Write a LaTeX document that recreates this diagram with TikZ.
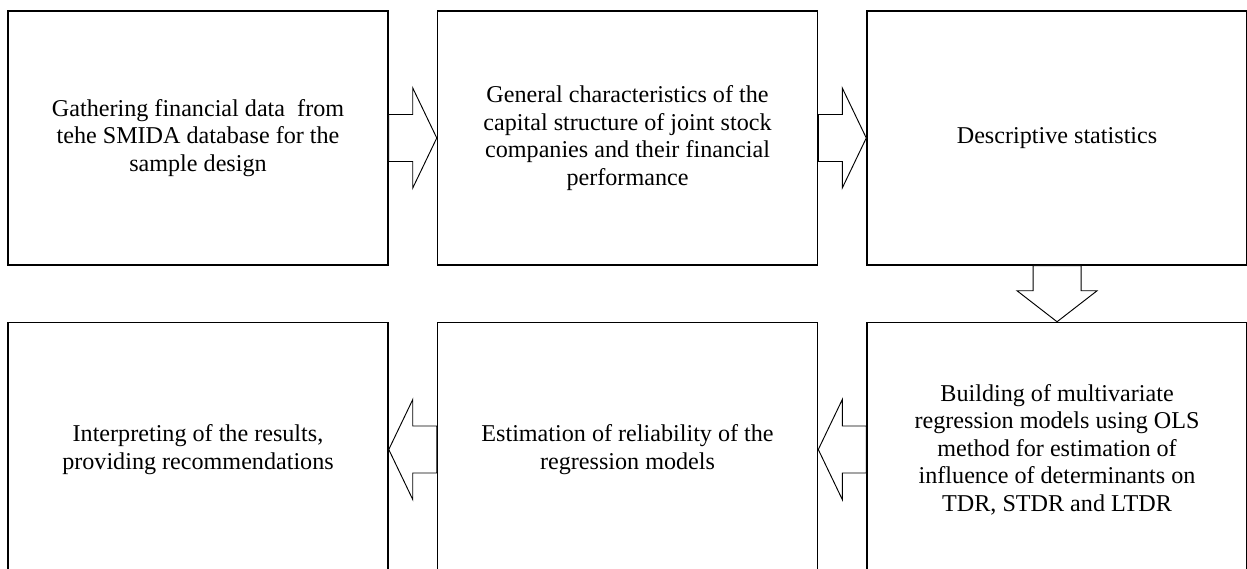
\documentclass[tikz,border=0pt]{standalone}
\usepackage{fontspec}
\setmainfont{Liberation Serif}
\usepackage{tikz}
\usetikzlibrary{positioning, calc}
\tikzset{
  % Process boxes
  stagebox/.style={
    rectangle, draw=black, fill=white, line width=1.3pt,
    minimum width=11.4cm, minimum height=7.62cm,
    align=center, font=\fontsize{20.6}{23.5}\selectfont,
  },
  % Hollow block arrows between the boxes
  blockarrow/.style={draw=black, fill=white, line width=0.8pt, line join=miter},
}

\begin{document}
\begin{tikzpicture}[node distance=1.44cm]

  \useasboundingbox (0,0) rectangle (37.41,-17.07);

  % Top row
  \node[stagebox] (gather) at (5.94,-4.14) {
    Gathering financial data~ from\\
    tehe SMIDA database for the\\
    sample design
  };
  \node[stagebox, right=of gather] (general) {
    General characteristics of the\\
    capital structure of joint stock\\
    companies and their financial\\
    performance
  };
  \node[stagebox, right=of general] (descr) {Descriptive statistics};

  % Bottom row
  \node[stagebox, below=1.68cm of descr] (regress) {
    Building of multivariate\\
    regression models using OLS\\
    method for estimation of\\
    influence of determinants on\\
    TDR, STDR and LTDR
  };
  \node[stagebox, left=of regress] (reliab) {
    Estimation of reliability of the\\
    regression models
  };
  \node[stagebox, left=of reliab] (interp) {
    Interpreting of the results,\\
    providing recommendations
  };

  % Arrows
  \draw[blockarrow] ([yshift=0.705cm]gather.east) -- ++(0.72,0) -- ++(0,0.795)
    -- (general.west) -- ++(-0.72,-1.5) -- ++(0,0.795)
    -- ([yshift=-0.705cm]gather.east) -- cycle;
  \draw[blockarrow] ([yshift=0.705cm]general.east) -- ++(0.72,0) -- ++(0,0.795)
    -- (descr.west) -- ++(-0.72,-1.5) -- ++(0,0.795)
    -- ([yshift=-0.705cm]general.east) -- cycle;
  \draw[blockarrow] ([xshift=-0.72cm]descr.south) -- ++(0,-0.75) -- ++(-0.48,0)
    -- (regress.north) -- ++(1.2,0.93) -- ++(-0.48,0)
    -- ([xshift=0.72cm]descr.south) -- cycle;
  \draw[blockarrow] ([yshift=0.705cm]regress.west) -- ++(-0.72,0) -- ++(0,0.795)
    -- (reliab.east) -- ++(0.72,-1.5) -- ++(0,0.795)
    -- ([yshift=-0.705cm]regress.west) -- cycle;
  \draw[blockarrow] ([yshift=0.705cm]reliab.west) -- ++(-0.72,0) -- ++(0,0.795)
    -- (interp.east) -- ++(0.72,-1.5) -- ++(0,0.795)
    -- ([yshift=-0.705cm]reliab.west) -- cycle;

\end{tikzpicture}
\end{document}
